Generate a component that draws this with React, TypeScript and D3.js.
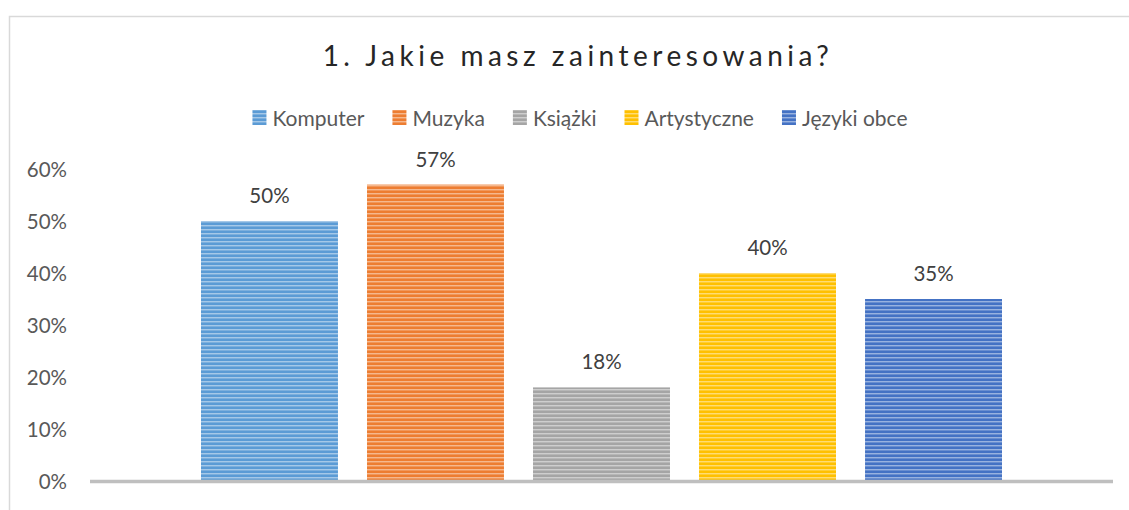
import React, { useEffect, useRef } from "react";
import * as d3 from "d3";

const title = "1. Jakie masz zainteresowania?";
const series = ["Komputer", "Muzyka", "Książki", "Artystyczne", "Języki obce"];
const values = [0.5, 0.57, 0.18, 0.4, 0.35];
const colors = ["#5b9bd5", "#ed7d31", "#a5a5a5", "#ffc000", "#4472c4"];
const yTicks = [0, 0.1, 0.2, 0.3, 0.4, 0.5, 0.6];

const FONT = "Lato, 'Open Sans', sans-serif";

export default function App() {
  const ref = useRef<SVGSVGElement>(null);

  useEffect(() => {
    const svg = d3.select(ref.current);
    svg.selectAll("*").remove();

    const y = d3.scaleLinear().domain([0, 0.6]).range([481, 169]);
    const x = d3.scaleBand().domain(series).range([201, 1002]).paddingInner(0.175).paddingOuter(0);

    // striped fills, one per series
    const defs = svg.append("defs");
    series.forEach((s, i) => {
      const p = defs.append("pattern")
        .attr("id", "stripe" + i)
        .attr("patternUnits", "userSpaceOnUse")
        .attr("width", 8)
        .attr("height", 4);
      p.append("rect").attr("width", 8).attr("height", 4).attr("fill", colors[i]);
      p.append("rect").attr("y", 1).attr("width", 8).attr("height", 1).attr("fill", "#fff").attr("opacity", 0.45);
      p.append("rect").attr("y", 2).attr("width", 8).attr("height", 1).attr("fill", "#fff").attr("opacity", 0.2);
    });

    // chart border
    svg.append("rect")
      .attr("x", 9.5).attr("y", 16.5)
      .attr("width", 1140).attr("height", 520)
      .attr("fill", "#fff").attr("stroke", "#d9d9d9").attr("stroke-width", 1.5);

    svg.append("text")
      .attr("x", 578).attr("y", 66)
      .attr("text-anchor", "middle")
      .attr("font-family", FONT)
      .attr("font-size", 28)
      .attr("letter-spacing", 4.5)
      .attr("fill", "#262626")
      .text(title);

    // legend, laid out from measured text widths and centred
    const lg = svg.append("g");
    let lx = 0;
    series.forEach((s, i) => {
      const g = lg.append("g").attr("transform", `translate(${lx},0)`);
      g.append("rect").attr("x", 0).attr("y", 110).attr("width", 14).attr("height", 15).attr("fill", `url(#stripe${i})`);
      const t = g.append("text")
        .attr("x", 20).attr("y", 126)
        .attr("font-family", FONT)
        .attr("font-size", 21)
        .attr("fill", "#595959")
        .text(s);
      const w = (t.node() as SVGTextElement).getComputedTextLength();
      lx += 20 + w + (i < series.length - 1 ? 28 : 0);
    });
    lg.attr("transform", `translate(${580 - lx / 2},0)`);

    // y labels
    svg.append("g").selectAll("text")
      .data(yTicks)
      .enter()
      .append("text")
        .attr("x", 67)
        .attr("y", (d) => y(d) + 7.5)
        .attr("text-anchor", "end")
        .attr("font-family", FONT)
        .attr("font-size", 20.5)
        .attr("fill", "#595959")
        .text((d) => d3.format(".0%")(d));

    // bars
    svg.append("g").selectAll("rect")
      .data(values)
      .enter()
      .append("rect")
        .attr("x", (d, i) => x(series[i])!)
        .attr("y", (d) => y(d))
        .attr("width", x.bandwidth())
        .attr("height", (d) => y(0) - y(d))
        .attr("fill", (d, i) => `url(#stripe${i})`);

    // value labels
    svg.append("g").selectAll("text")
      .data(values)
      .enter()
      .append("text")
        .attr("x", (d, i) => x(series[i])! + x.bandwidth() / 2)
        .attr("y", (d) => y(d) - 18)
        .attr("text-anchor", "middle")
        .attr("font-family", FONT)
        .attr("font-size", 20.5)
        .attr("fill", "#404040")
        .text((d) => d3.format(".0%")(d));

    // category axis line
    svg.append("line")
      .attr("x1", 90).attr("x2", 1113)
      .attr("y1", y(0) + 0.5).attr("y2", y(0) + 0.5)
      .attr("stroke", "#bfbfbf").attr("stroke-width", 3.5);
  }, []);

  return (
    <svg ref={ref} width={1129} height={510} style={{ position: "absolute", left: 0, top: 0 }} />
  );
}
